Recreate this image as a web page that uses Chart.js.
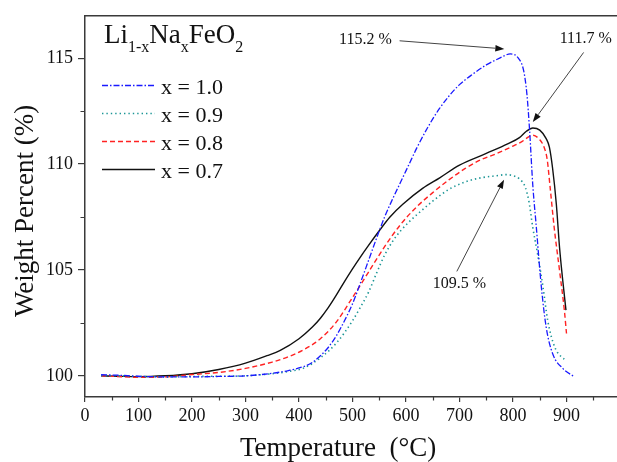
<!DOCTYPE html>
<html>
<head>
<meta charset="utf-8">
<title>Li1-xNaxFeO2 TGA</title>
<script src="https://cdn.jsdelivr.net/npm/chart.js@4.4.0/dist/chart.umd.min.js"></script>
<style>
  html, body { margin: 0; padding: 0; background: #fff; overflow: hidden; }
  #wrap { width: 640px; height: 462px; }
</style>
</head>
<body>
<div id="wrap"><canvas id="tgaChart"></canvas></div>
<script>
// x = 1.0
const tempX10 = [30, 60, 100, 150, 200, 250, 300, 350, 380, 410, 426, 440, 455, 470, 485, 500, 515, 530, 545, 560, 575, 590, 605, 620, 640, 662, 680, 700, 725, 750, 775, 795, 810, 820, 826, 831, 837, 843, 853, 862, 874, 893, 915];
const wtX10 = [100.05, 100.03, 99.98, 99.95, 99.95, 99.97, 100.0, 100.12, 100.25, 100.45, 100.65, 100.95, 101.35, 101.9, 102.6, 103.4, 104.4, 105.45, 106.5, 107.5, 108.35, 109.15, 109.95, 110.75, 111.7, 112.6, 113.2, 113.75, 114.25, 114.68, 115.0, 115.2, 115.0, 114.4, 113.3, 111.6, 109.0, 107.2, 104.2, 102.3, 101.05, 100.35, 99.95];

// x = 0.9
const tempX09 = [30, 60, 100, 150, 200, 250, 300, 350, 380, 410, 440, 470, 500, 515, 530, 545, 560, 575, 590, 605, 620, 650, 680, 710, 740, 770, 787, 800, 812, 823, 830, 837, 846, 856, 865, 878, 899];
const wtX09 = [100.0, 100.0, 99.97, 99.95, 99.97, 99.98, 100.0, 100.1, 100.2, 100.38, 100.85, 101.55, 102.6, 103.25, 103.95, 104.85, 105.7, 106.35, 106.85, 107.25, 107.6, 108.25, 108.8, 109.15, 109.35, 109.45, 109.5, 109.45, 109.3, 108.9, 108.2, 107.0, 105.75, 104.2, 102.6, 101.36, 100.7];

// x = 0.8
const tempX08 = [30, 60, 100, 150, 200, 250, 300, 350, 380, 410, 440, 470, 500, 530, 560, 590, 620, 650, 680, 710, 740, 770, 800, 818, 830, 837, 850, 858, 864, 869, 877, 887, 896, 900];
const wtX08 = [100.0, 99.97, 99.93, 99.95, 100.06, 100.16, 100.35, 100.65, 100.9, 101.25, 101.75, 102.55, 103.7, 104.9, 106.1, 107.15, 107.98, 108.65, 109.25, 109.78, 110.2, 110.5, 110.85, 111.08, 111.3, 111.36, 111.15, 110.8, 110.2, 109.0, 107.0, 104.97, 103.09, 102.0];

// x = 0.7
const tempX07 = [30, 60, 100, 150, 200, 250, 300, 340, 365, 400, 425, 440, 455, 470, 485, 500, 515, 530, 550, 570, 594, 631, 663, 700, 750, 790, 812, 825, 837, 850, 862, 868, 874, 881, 887, 893, 899];
const wtX07 = [100.0, 99.98, 99.96, 100.0, 100.1, 100.3, 100.6, 100.95, 101.2, 101.75, 102.3, 102.72, 103.23, 103.82, 104.45, 105.05, 105.62, 106.16, 106.85, 107.5, 108.1, 108.85, 109.35, 109.95, 110.5, 110.95, 111.25, 111.55, 111.7, 111.6, 111.2, 110.8, 109.8, 108.1, 106.06, 104.5, 103.1];

const seriesNames = ['x = 1.0', 'x = 0.9', 'x = 0.8', 'x = 0.7'];
const xTickLabels = [0, 100, 200, 300, 400, 500, 600, 700, 800, 900, 1000];
const yTickLabels = [100, 105, 110, 115];

const serif = '"Liberation Serif", "Times New Roman", serif';
const axisColor = '#3a3a3a';

function points(tx, wy) {
  return tx.map((t, i) => ({ x: t, y: wy[i] }));
}

function peakOf(tx, wy) {
  let k = 0;
  wy.forEach((v, i) => { if (v > wy[k]) k = i; });
  return { x: tx[k], y: wy[k] };
}

const peak10 = peakOf(tempX10, wtX10);
const peak09 = peakOf(tempX09, wtX09);
const peak07 = peakOf(tempX07, wtX07);

// callouts: text anchor and arrow tail in data units, arrow head at the peak
const callouts = [
  { peak: peak10, text: [524, 115.87], tail: [588, 115.82], head: [-6, -5] },
  { peak: peak07, text: [936, 115.9], tail: [932, 115.27], head: [0, -6] },
  { peak: peak09, text: [700, 104.34], tail: [695, 104.93], head: [-2, 5] }
];

function drawArrow(ctx, x1, y1, x2, y2) {
  const ang = Math.atan2(y2 - y1, x2 - x1);
  const len = 9, half = 3.2;
  const bx = x2 - len * Math.cos(ang), by = y2 - len * Math.sin(ang);
  ctx.beginPath();
  ctx.moveTo(x1, y1);
  ctx.lineTo(bx, by);
  ctx.stroke();
  ctx.beginPath();
  ctx.moveTo(x2, y2);
  ctx.lineTo(bx + half * Math.sin(ang), by - half * Math.cos(ang));
  ctx.lineTo(bx - half * Math.sin(ang), by + half * Math.cos(ang));
  ctx.closePath();
  ctx.fill();
}

function drawFormula(ctx, x0, base) {
  const parts = [['Li', 0], ['1-x', 1], ['Na', 0], ['x', 1], ['FeO', 0], ['2', 1]];
  let xp = x0;
  for (const [t, sub] of parts) {
    ctx.font = (sub ? '16px ' : '27px ') + serif;
    ctx.fillText(t, xp, sub ? base + 9 : base);
    xp += ctx.measureText(t).width;
  }
}

const decor = {
  id: 'decor',
  afterDraw(chart) {
    const { ctx, chartArea: a, scales: { x, y } } = chart;
    ctx.save();

    // top frame line
    ctx.strokeStyle = axisColor;
    ctx.lineWidth = 1.5;
    ctx.beginPath();
    ctx.moveTo(a.left, a.top);
    ctx.lineTo(a.right + 2, a.top);
    ctx.stroke();

    // minor ticks halfway between labelled ones
    ctx.lineWidth = 1.2;
    ctx.beginPath();
    for (let i = 0; i < xTickLabels.length - 1; i++) {
      const px = Math.round(x.getPixelForValue((xTickLabels[i] + xTickLabels[i + 1]) / 2)) + 0.5;
      ctx.moveTo(px, a.bottom);
      ctx.lineTo(px, a.bottom + 3.5);
    }
    for (let i = 0; i < yTickLabels.length - 1; i++) {
      const py = Math.round(y.getPixelForValue((yTickLabels[i] + yTickLabels[i + 1]) / 2)) + 0.5;
      ctx.moveTo(a.left, py);
      ctx.lineTo(a.left - 4.5, py);
    }
    ctx.stroke();

    // axis titles
    ctx.fillStyle = '#111';
    ctx.font = '27px ' + serif;
    ctx.textBaseline = 'alphabetic';
    ctx.textAlign = 'left';
    ctx.fillText('Temperature  (\u00B0C)', 240, 456);
    ctx.save();
    ctx.translate(33, 211);
    ctx.rotate(-Math.PI / 2);
    ctx.textAlign = 'center';
    ctx.fillText('Weight Percent (%)', 0, 0);
    ctx.restore();

    // legend
    drawFormula(ctx, 104, 43);
    const rows = [85.5, 113.5, 141.5, 169.5];
    chart.data.datasets.forEach((ds, i) => {
      ctx.strokeStyle = ds.borderColor;
      ctx.lineWidth = ds.borderWidth;
      ctx.lineCap = ds.borderCapStyle || 'butt';
      ctx.setLineDash(ds.borderDash || []);
      ctx.beginPath();
      ctx.moveTo(102, rows[i]);
      ctx.lineTo(155, rows[i]);
      ctx.stroke();
      ctx.setLineDash([]);
      ctx.fillStyle = '#111';
      ctx.font = '22px ' + serif;
      ctx.fillText(ds.label, 161, rows[i] + 8);
    });

    // peak callouts
    ctx.strokeStyle = '#444';
    ctx.fillStyle = '#111';
    ctx.lineWidth = 1;
    ctx.lineCap = 'butt';
    ctx.font = '16px ' + serif;
    ctx.textAlign = 'center';
    ctx.textBaseline = 'middle';
    callouts.forEach(c => {
      ctx.fillText(c.peak.y.toFixed(1) + ' %', x.getPixelForValue(c.text[0]), y.getPixelForValue(c.text[1]));
      drawArrow(ctx,
        x.getPixelForValue(c.tail[0]), y.getPixelForValue(c.tail[1]),
        x.getPixelForValue(c.peak.x) + c.head[0], y.getPixelForValue(c.peak.y) + c.head[1]);
    });

    ctx.restore();
  }
};

new Chart(document.getElementById('tgaChart'), {
  type: 'line',
  data: {
    datasets: [
      { label: seriesNames[0], data: points(tempX10, wtX10), borderColor: '#1a1aff', borderWidth: 1.3, borderDash: [6, 2, 1.5, 2] },
      { label: seriesNames[1], data: points(tempX09, wtX09), borderColor: '#1c9696', borderWidth: 1.6, borderDash: [1.4, 3], borderCapStyle: 'butt' },
      { label: seriesNames[2], data: points(tempX08, wtX08), borderColor: '#ff2222', borderWidth: 1.4, borderDash: [5, 3] },
      { label: seriesNames[3], data: points(tempX07, wtX07), borderColor: '#111111', borderWidth: 1.4 }
    ]
  },
  options: {
    responsive: true,
    maintainAspectRatio: false,
    animation: false,
    layout: { padding: { left: 0, right: 20, top: 15, bottom: 0 } },
    elements: {
      point: { radius: 0 },
      line: { fill: false, cubicInterpolationMode: 'monotone' }
    },
    plugins: {
      legend: { display: false },
      tooltip: { enabled: false }
    },
    scales: {
      x: {
        type: 'linear',
        min: 0,
        max: 1000,
        afterBuildTicks: s => { s.ticks = xTickLabels.map(v => ({ value: v })); },
        afterFit: s => { s.height = 65; },
        ticks: {
          autoSkip: false,
          maxRotation: 0,
          padding: 3,
          color: '#111',
          font: { family: serif, size: 18 },
          callback: v => (v === 1000 ? '' : v)
        },
        grid: { drawOnChartArea: false, drawTicks: true, tickLength: 5, color: axisColor, lineWidth: 1.2 },
        border: { color: axisColor, width: 1.5 }
      },
      y: {
        type: 'linear',
        min: 99,
        max: 117,
        afterBuildTicks: s => { s.ticks = yTickLabels.map(v => ({ value: v })); },
        afterFit: s => { s.width = 85; },
        ticks: {
          padding: 5,
          color: '#111',
          font: { family: serif, size: 18 }
        },
        grid: { drawOnChartArea: false, drawTicks: true, tickLength: 7, color: axisColor, lineWidth: 1.2 },
        border: { color: axisColor, width: 1.5 }
      }
    }
  },
  plugins: [decor]
});
</script>
</body>
</html>
